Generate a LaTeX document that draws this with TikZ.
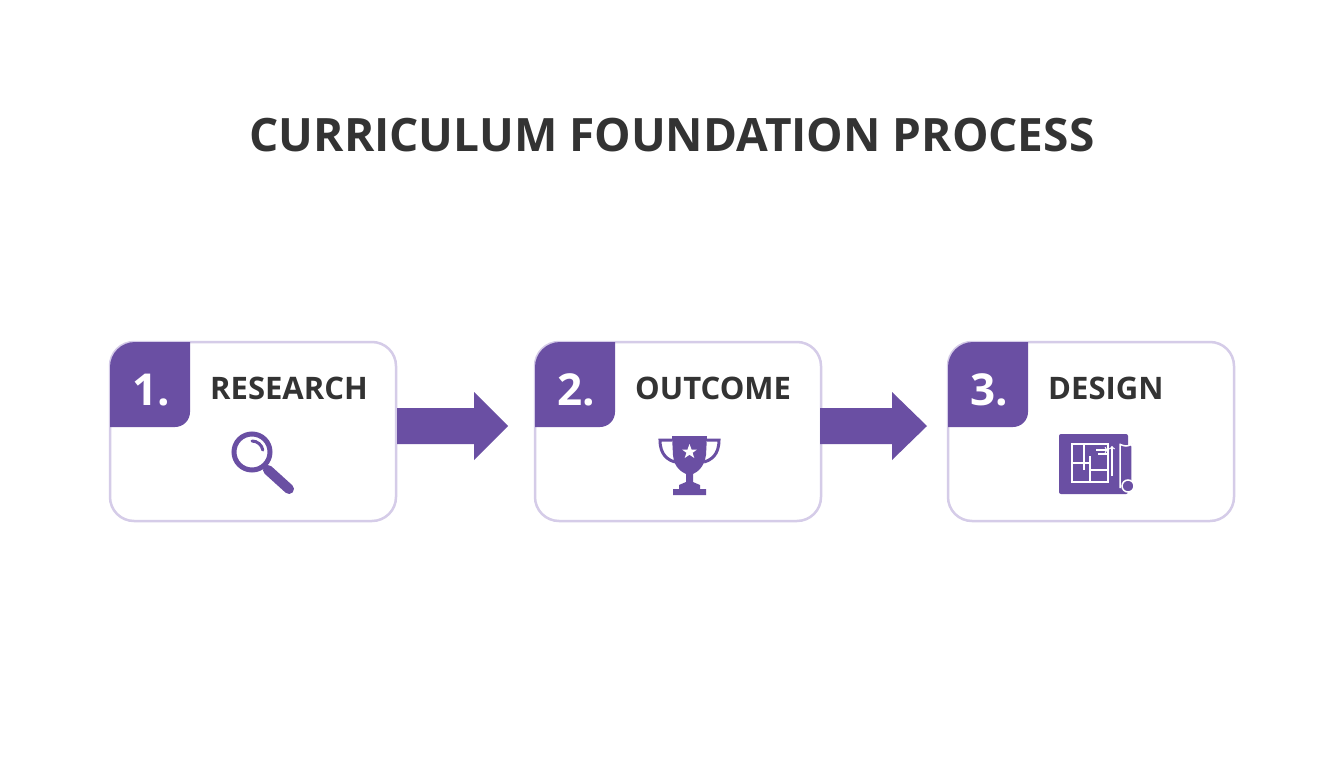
\documentclass[tikz,border=0pt]{standalone}
\usepackage{fontspec}
\setmainfont{Open Sans}
\definecolor{pur}{HTML}{6A4FA3}
\definecolor{lav}{HTML}{D5CCE8}
\definecolor{txt}{HTML}{333333}
\begin{document}
\begin{tikzpicture}[x=1pt,y=-1pt,
  card/.style={draw=lav,line width=2.5pt,fill=white,rounded corners=24pt},
  tabfill/.style={fill=pur},
  num/.style={text=white,font=\fontsize{44}{44}\selectfont\bfseries},
  lbl/.style={text=txt,font=\fontsize{31}{31}\selectfont\bfseries,inner sep=0pt},
  flow/.style={fill=pur}]
\useasboundingbox (0,0) rectangle (1344,768);
\fill[white] (0,0) rectangle (1344,768);
\node[text=txt,font=\fontsize{46}{46}\selectfont\bfseries] (title) at (672,135) {CURRICULUM FOUNDATION PROCESS};
\foreach \x/\n/\t/\nm in {110/1./RESEARCH/a,535/2./OUTCOME/b,948/3./DESIGN/c}{
  \draw[card] (\x,342) rectangle ++(286,179);
  \fill[tabfill] (\x,427) -- (\x,367) arc[start angle=180,end angle=270,radius=25] -- (\x+80,342) -- (\x+80,412) arc[start angle=0,end angle=90,radius=15] -- cycle;
  \node[num] (n\nm) at (\x+41,390) {\n};
  \node[lbl,anchor=west] (l\nm) at (\x+100,388) {\t};
}
% arrows
\fill[flow] (397,408) -- (474,408) -- (474,392) -- (508,426) -- (474,460) -- (474,444) -- (397,444) -- cycle;
\fill[flow] (820,408) -- (892,408) -- (892,392) -- (927,426) -- (892,460) -- (892,444) -- (820,444) -- cycle;
% magnifier
\draw[pur,line width=5pt] (252,452) circle (18);
\draw[pur,line width=3pt,line cap=round] (252,441) arc[start angle=-90,end angle=-10,radius=11];
\draw[pur,line width=10pt,line cap=round] (268,470) -- (289,489);
% trophy
\fill[pur] (672,436) -- (707,436) -- (706,455) .. controls (704,468) and (697,472) .. (693,474) -- (693,482) -- (700,485) -- (700,489) -- (706,489) -- (706,495) -- (673,495) -- (673,489) -- (679,489) -- (679,485) -- (686,482) -- (686,474) .. controls (682,472) and (674,468) .. (673,455) -- cycle;
\draw[pur,line width=3pt] (672,440) -- (660,440) .. controls (660,455) and (668,460) .. (675,462);
\draw[pur,line width=3pt] (707,440) -- (719,440) .. controls (719,455) and (711,460) .. (704,462);
\fill[white] (689.5,444) -- (691.5,449.5) -- (697,449.5) -- (692.6,452.8) -- (694.3,458) -- (689.5,454.8) -- (684.7,458) -- (686.4,452.8) -- (682,449.5) -- (687.5,449.5) -- cycle;
% blueprint
\fill[pur,rounded corners=2pt] (1059,434) rectangle (1128,494);
\draw[white,line width=1.5pt,fill=pur,rounded corners=6pt] (1120,488) -- (1120,440) arc[start angle=180,end angle=0,radius=6] -- (1132,488);
\draw[white,line width=1.5pt,fill=pur] (1128,486) circle (6);
\draw[white,line width=2pt] (1072,444) rectangle (1108,482);
\draw[white,line width=2pt] (1072,463) -- (1090,463) (1084,444) -- (1084,470) (1090,456) -- (1090,482) (1090,470) -- (1108,470) (1098,454) -- (1108,454);
\draw[white,line width=1.2pt,->] (1096,450) -- (1108,450);
\draw[white,line width=1.2pt,->] (1112,476) -- (1112,446);
\end{tikzpicture}
\end{document}
